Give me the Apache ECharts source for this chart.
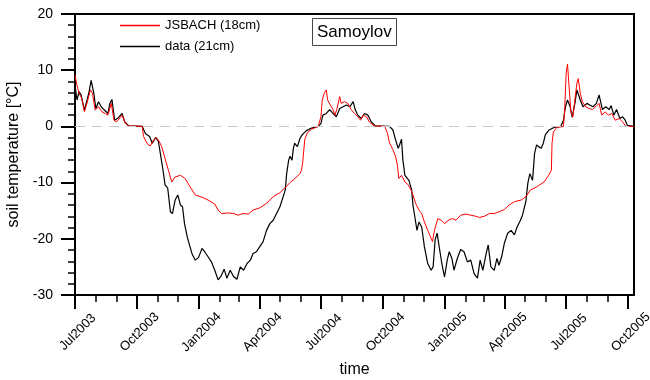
<!DOCTYPE html>
<html><head><meta charset="utf-8">
<script src="https://cdn.jsdelivr.net/npm/echarts@6/dist/echarts.min.js"></script>
<style>html,body{margin:0;padding:0;background:#fff}#c{width:650px;height:380px}</style>
</head><body><div id="c"></div>
<script>
// x values are days since 1 Jul 2003
const axisEndDay = 832;
const majorTickDays = [0, 92, 184, 275, 366, 458, 550, 640, 731, 823];
const majorTickLabels = ['Jul2003','Oct2003','Jan2004','Apr2004','Jul2004','Oct2004','Jan2005','Apr2005','Jul2005','Oct2005'];
const minorTickDays = [0,31,62,92,123,153,184,215,244,275,305,336,366,397,428,458,489,519,550,581,609,640,670,701,731,762,793,823];
const yTicks = [-30, -20, -10, 0, 10, 20];

const seriesNames = ['JSBACH (18cm)', 'data (21cm)'];
const seriesColors = ['#ff0000', '#000000'];

const blackDays = [
 0,3,6,9,14,18,21,24,28,31,
 35,39,43,45,49,52,55,59,65,70,
 74,80,100,105,111,115,120,124,127,131,
 134,138,142,145,149,153,157,160,163,167,
 169,174,179,184,189,193,198,203,208,213,
 217,222,226,231,236,241,246,251,256,261,
 265,270,275,280,285,290,295,300,305,309,
 313,315,318,320,323,325,327,331,335,338,
 344,352,362,366,369,374,379,384,389,394,
 399,404,409,414,417,421,426,431,436,441,
 447,468,473,477,481,483,486,488,491,493,
 497,501,503,505,509,512,516,520,525,530,
 533,536,539,542,546,550,554,557,561,564,
 569,574,579,584,589,594,599,603,607,612,
 615,619,624,628,631,635,639,644,649,654,
 658,663,666,671,674,677,681,684,687,690,
 694,697,700,705,713,723,727,730,733,737,
 740,744,747,752,756,762,766,771,776,780,
 785,790,795,798,802,806,811,815,819,822,
 832];
const blackVals = [
 7.3,4.7,6.2,5.6,2.9,4.7,6.2,8.2,5.9,3.2,
 4.4,3.5,3.0,3.2,2.3,4.1,4.8,1.1,1.6,2.3,
 0.8,0.1,0,-1.3,-1.8,-3.0,-2.0,-2.6,-4.8,-7.8,
 -10.4,-11.0,-15.2,-15.5,-13.1,-12.2,-14.0,-14.3,-17.3,-19.6,
 -20.5,-22.6,-23.8,-23.3,-21.7,-22.3,-23.2,-24.1,-25.6,-27.3,
 -26.7,-25.4,-27.0,-25.6,-26.7,-27.2,-25.0,-25.6,-24.4,-23.8,
 -22.6,-22.3,-21.4,-20.5,-18.5,-17.3,-16.7,-15.5,-14.3,-12.8,
 -11.3,-8.4,-6.0,-5.3,-6.0,-3.9,-3.0,-3.6,-2.1,-1.5,
 -0.8,-0.3,0,0.5,2.0,2.3,3.0,2.3,1.7,3.2,
 3.5,3.8,3.5,4.4,3.0,2.0,1.4,2.3,2.0,0.8,
 0.1,0,-0.6,-2.3,-3.9,-3.3,-2.3,-6.0,-8.7,-9.0,
 -9.6,-11.3,-14.0,-15.5,-18.5,-17.0,-17.9,-21.4,-24.4,-25.6,
 -25.0,-20.2,-19.0,-21.4,-24.4,-26.8,-23.8,-22.3,-23.5,-25.6,
 -23.5,-21.9,-22.3,-24.1,-23.8,-26.2,-27.0,-23.8,-25.6,-22.6,
 -21.1,-25.0,-25.6,-23.5,-24.7,-23.2,-20.8,-19.0,-18.5,-19.3,
 -17.9,-16.7,-15.8,-13.4,-10.1,-8.4,-9.6,-4.8,-3.3,-3.6,
 -3.9,-3.0,-1.5,-0.7,-0.2,0,1.1,3.5,4.7,3.5,
 1.6,4.1,6.5,4.7,3.5,4.1,3.8,3.5,4.1,5.6,
 3.0,3.5,3.0,3.7,2.0,3.0,1.4,1.7,1.1,0.2,
 0];

const redDays = [
 0,3,6,10,14,18,23,26,30,35,
 40,45,49,54,58,62,70,75,80,100,
 102,107,112,117,121,125,129,134,139,144,
 149,157,164,167,171,179,189,198,208,213,
 218,228,236,243,250,258,265,275,285,295,
 305,312,320,327,335,337,339,342,346,352,
 362,366,368,371,374,376,380,384,387,390,
 394,396,401,406,411,416,421,425,429,434,
 438,445,461,465,468,473,477,480,482,486,
 491,496,500,503,507,512,516,520,525,530,
 532,535,540,545,550,557,562,567,574,582,
 589,597,602,609,617,624,631,639,646,654,
 664,671,678,688,698,705,709,710,712,717,
 727,729,731,733,735,738,741,744,747,749,
 752,755,760,765,770,775,780,784,789,794,
 799,804,810,815,820,832];
const redVals = [
 9.1,7.3,5.9,5.0,2.6,4.2,6.5,5.9,2.9,3.5,
 2.6,2.3,2.0,4.1,1.1,0.8,2.0,0.5,0.1,0,
 -1.8,-3.0,-3.5,-2.4,-2.0,-2.6,-3.6,-5.7,-7.8,-9.9,
 -9.0,-8.7,-9.3,-9.9,-10.7,-12.2,-12.6,-13.1,-13.8,-14.9,
 -15.5,-15.4,-15.5,-15.8,-15.5,-15.6,-14.9,-14.5,-13.7,-12.5,
 -11.8,-11.0,-10.0,-9.3,-8.4,-7.8,-6.3,-2.3,-1.1,-0.5,
 0,1.7,4.7,5.9,6.5,4.7,3.8,3.0,2.0,3.2,
 5.3,4.1,4.4,4.1,3.0,2.3,1.7,1.1,2.0,1.7,
 0.8,0.1,0,-1.2,-2.9,-4.1,-5.3,-7.0,-9.3,-8.7,
 -9.9,-10.4,-11.3,-12.2,-13.7,-14.9,-15.5,-17.0,-18.5,-19.9,
 -20.5,-18.5,-16.4,-16.7,-17.3,-16.6,-16.4,-16.7,-15.8,-15.6,
 -15.8,-16.0,-16.2,-16.0,-15.5,-15.5,-15.2,-14.8,-14.0,-13.4,
 -13.1,-12.5,-11.3,-10.7,-9.9,-8.7,-7.8,-3.0,-1.0,-0.2,
 0,3.5,9.4,11.1,7.7,2.6,1.7,4.7,7.7,8.5,
 5.9,4.4,3.5,3.2,3.0,3.5,4.1,2.0,2.6,2.0,
 2.3,1.1,1.4,0.8,0,0];

const FONT = '"Liberation Sans", Arial, Helvetica, sans-serif';
const zip = (xs, ys) => xs.map((x, i) => [x, ys[i]]);

const chart = echarts.init(document.getElementById('c'), null, {renderer: 'canvas'});
chart.setOption({
  animation: false,
  backgroundColor: '#fff',
  title: {
    text: 'Samoylov', left: 312, top: 18,
    borderWidth: 1, borderColor: '#444', padding: [6, 5, 5, 5],
    textStyle: {fontFamily: FONT, fontSize: 17, fontWeight: 'normal', color: '#000'}
  },
  legend: {
    data: seriesNames.map((n, i) => ({name: n, itemStyle: {color: seriesColors[i]}})),
    orient: 'vertical', left: 120, top: 18, padding: 0,
    icon: 'rect', itemWidth: 40, itemHeight: 1.3, itemGap: 6,
    textStyle: {fontFamily: FONT, fontSize: 13, color: '#000', lineHeight: 15}
  },
  grid: {left: 75, right: 16, top: 14, bottom: 85, show: true, borderColor: '#000', borderWidth: 2,
         containLabel: false, outerBoundsMode: 'none'},
  xAxis: [{
    type: 'value', min: 0, max: axisEndDay, position: 'bottom',
    name: 'time', nameLocation: 'middle', nameGap: 65,
    nameTextStyle: {fontFamily: FONT, fontSize: 16, color: '#000'},
    axisLine: {show: true, onZero: false, lineStyle: {color: '#000', width: 2}},
    axisTick: {show: true, inside: false, length: 14, customValues: majorTickDays, lineStyle: {color: '#000', width: 2}},
    axisLabel: {
      show: true, customValues: majorTickDays, rotate: 45, margin: 40, align: 'center', verticalAlign: 'middle',
      padding: [0, 0, 0, 8],
      fontFamily: FONT, fontSize: 13, color: '#000',
      formatter: v => majorTickLabels[majorTickDays.indexOf(v)]
    },
    splitLine: {show: false}
  }, {
    type: 'value', min: 0, max: axisEndDay, position: 'bottom', offset: 0,
    axisLine: {show: true, onZero: false, lineStyle: {color: '#000', width: 2}},
    axisTick: {show: true, inside: false, length: 7, customValues: minorTickDays, lineStyle: {color: '#000', width: 1.5}},
    axisLabel: {show: false},
    splitLine: {show: false}
  }],
  yAxis: {
    type: 'value', min: yTicks[0], max: yTicks[yTicks.length - 1], interval: 10,
    name: 'soil temperature [°C]', nameLocation: 'middle', nameGap: 48,
    nameTextStyle: {fontFamily: FONT, fontSize: 16, color: '#000'},
    axisLine: {show: true, onZero: false, lineStyle: {color: '#000', width: 2}},
    axisTick: {show: true, inside: false, length: 14, lineStyle: {color: '#000', width: 2}},
    minorTick: {show: true, splitNumber: 5, length: 7, lineStyle: {color: '#000', width: 1.5}},
    axisLabel: {fontFamily: FONT, fontSize: 14, color: '#000', margin: 22},
    splitLine: {show: false}
  },
  series: [{
    name: seriesNames[1], type: 'line', xAxisIndex: 0,
    data: zip(blackDays, blackVals), symbol: 'none', showSymbol: false,
    lineStyle: {color: seriesColors[1], width: 1.2}, itemStyle: {color: seriesColors[1]},
    markLine: {
      silent: true, symbol: ['none', 'none'], label: {show: false},
      lineStyle: {color: '#c8c8c8', type: [10, 7], width: 1},
      data: [{yAxis: 0}]
    }
  }, {
    name: seriesNames[0], type: 'line', xAxisIndex: 0,
    data: zip(redDays, redVals), symbol: 'none', showSymbol: false,
    lineStyle: {color: seriesColors[0], width: 1}, itemStyle: {color: seriesColors[0]}
  }]
});
</script>
</body></html>
